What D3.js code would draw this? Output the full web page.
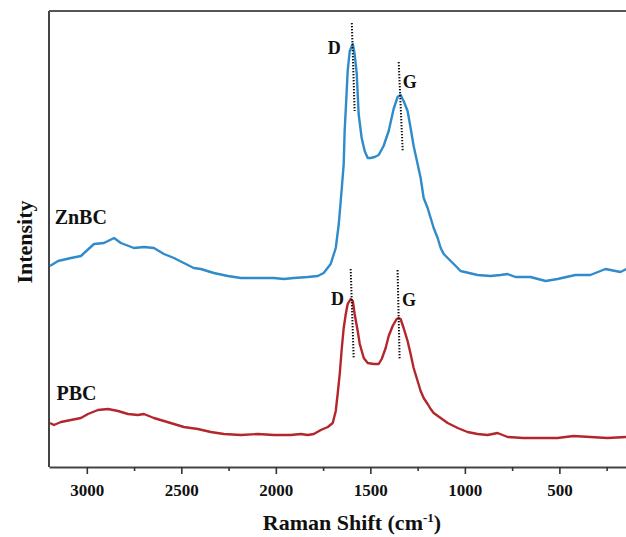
<!DOCTYPE html>
<html>
<head>
<meta charset="utf-8">
<script src="https://cdn.jsdelivr.net/npm/d3@7"></script>
<style>
  html, body { margin: 0; padding: 0; background: #fff; }
  svg { display: block; }
  text { font-family: "Liberation Serif", "Times New Roman", serif; font-weight: bold; fill: #111; }
</style>
</head>
<body>
<svg id="chart" width="626" height="537"></svg>
<script>
// ---- data (Raman shift in cm^-1, intensity in arbitrary units incl. vertical offset) ----
const znbcShift = [3195,3152,3084,3031,2962,2909,2856,2820,2751,2698,2645,2592,2539,2487,2434,2397,2328,2254,2185,2095,2011,1958,1905,1831,1778,1747,1710,1683,1667,1651,1641,1636,1627,1620,1609,1593,1583,1572,1562,1546,1530,1514,1498,1477,1456,1430,1403,1377,1356,1340,1324,1303,1287,1271,1250,1234,1218,1197,1181,1165,1144,1128,1112,1091,1075,1038,1023,933,864,811,774,732,653,573,510,415,336,256,177,145];
const znbcIntensity = [201,206,209,211,223,224,229,224,219,220,219,213,209,204,199,198,194,191,189,189,189,188,189,190,191,194,203,219,243,279,303,336,369,396,416,423,413,393,353,329,316,309,309,310,312,321,336,358,370,372,366,356,339,321,303,289,269,259,249,239,229,219,213,209,206,199,196,192,191,192,193,190,190,186,188,192,192,198,195,198];

const pbcShift = [3195,3174,3137,3084,3031,2994,2941,2888,2835,2782,2730,2698,2645,2592,2539,2487,2413,2344,2275,2185,2095,2011,1921,1868,1831,1799,1762,1725,1699,1683,1673,1662,1651,1641,1630,1620,1604,1593,1583,1567,1556,1535,1514,1482,1456,1440,1419,1403,1382,1361,1350,1340,1324,1303,1287,1271,1250,1234,1218,1197,1181,1165,1128,1091,1038,986,933,880,827,774,690,600,510,425,336,246,145];
const pbcIntensity = [44,42,45,47,49,53,57,58,56,53,52,53,49,46,43,40,38,35,33,32,33,32,32,33,32,33,37,40,44,56,73,93,119,139,153,163,168,166,153,136,123,109,104,103,103,108,119,131,141,148,149,148,139,126,113,99,86,76,69,63,58,54,49,44,39,35,33,32,34,30,29,29,29,31,30,29,30];

const xTicks = [3000, 2500, 2000, 1500, 1000, 500];
const xMinorTicks = [2750, 2250, 1750, 1250, 750, 250];
const seriesNames = ["ZnBC", "PBC"];
const seriesColors = ["#2f8bc9", "#b3262c"];
// sample label anchors: [shift, intensity]
const seriesLabelPos = [[3170, 243], [3160, 67]];
// dotted peak markers: [shiftTop, intensityTop, shiftBottom, intensityBottom]
const peakLines = [
  [1598, 444, 1583, 356], [1350, 405, 1329, 316],
  [1604, 198, 1588, 109], [1356, 197, 1345, 108]
];
// peak labels: [text, shift, intensity, anchor]
const peakLabels = [
  ["D", 1657, 413, "end"], ["G", 1328, 379, "start"],
  ["D", 1640, 162, "end"], ["G", 1333, 161, "start"]
];

(function draw() {
  const svg = d3.select("#chart");
  const mLeft = 49, mRight = 635, mTop = 11, mBottom = 467;

  const x = d3.scaleLinear().domain([3200, 100]).range([mLeft, mRight]);
  const y = d3.scaleLinear().domain([0, 456]).range([mBottom, mTop]);

  // frame lines (left, top)
  svg.append("line").attr("x1", mLeft).attr("x2", mLeft).attr("y1", mTop).attr("y2", mBottom)
    .attr("stroke", "#444").attr("stroke-width", 2);
  svg.append("line").attr("x1", mLeft).attr("x2", 626).attr("y1", mTop).attr("y2", mTop)
    .attr("stroke", "#555").attr("stroke-width", 2);

  // bottom axis
  const xAxis = d3.axisBottom(x).tickValues(xTicks).tickSize(7).tickSizeOuter(0).tickFormat(d3.format("d"));
  const gx = svg.append("g").attr("transform", `translate(0,${mBottom})`).call(xAxis);
  gx.select(".domain").attr("stroke", "#444").attr("stroke-width", 2);
  gx.selectAll(".tick line").attr("stroke", "#333").attr("stroke-width", 1.6);
  gx.selectAll(".tick text").attr("y", 29).attr("dy", 0)
    .style("font-family", "'Liberation Serif', serif").style("font-weight", "bold")
    .style("font-size", "17px").attr("fill", "#111");
  const gxm = svg.append("g").attr("transform", `translate(0,${mBottom})`)
    .call(d3.axisBottom(x).tickValues(xMinorTicks).tickSize(4).tickSizeOuter(0).tickFormat(""));
  gxm.select(".domain").remove();
  gxm.selectAll(".tick line").attr("stroke", "#333").attr("stroke-width", 1.6);

  // curves
  const line = d3.line().x(d => x(d[0])).y(d => y(d[1]));
  const seriesData = [
    d3.zip(znbcShift, znbcIntensity),
    d3.zip(pbcShift, pbcIntensity)
  ];
  svg.append("clipPath").attr("id", "clip").append("rect")
    .attr("x", mLeft).attr("y", mTop).attr("width", mRight - mLeft).attr("height", mBottom - mTop);
  seriesData.forEach((data, i) => {
    svg.append("path").datum(data)
      .attr("clip-path", "url(#clip)")
      .attr("fill", "none").attr("stroke", seriesColors[i])
      .attr("stroke-width", 2.4).attr("stroke-linejoin", "round")
      .attr("d", line);
  });

  // dotted peak markers
  peakLines.forEach(p => {
    svg.append("line")
      .attr("x1", x(p[0])).attr("y1", y(p[1])).attr("x2", x(p[2])).attr("y2", y(p[3]))
      .attr("stroke", "#111").attr("stroke-width", 2).attr("stroke-dasharray", "1.4,1.6");
  });

  // peak labels
  peakLabels.forEach(p => {
    svg.append("text").attr("x", x(p[1])).attr("y", y(p[2]))
      .attr("text-anchor", p[3]).style("font-size", "18px").text(p[0]);
  });

  // sample labels
  seriesNames.forEach((name, i) => {
    svg.append("text").attr("x", x(seriesLabelPos[i][0])).attr("y", y(seriesLabelPos[i][1]))
      .style("font-size", "20px").text(name);
  });

  // axis titles
  const xt = svg.append("text").attr("x", 352).attr("y", 530).attr("text-anchor", "middle")
    .style("font-size", "22px");
  xt.append("tspan").text("Raman Shift (cm");
  xt.append("tspan").attr("dy", -8).style("font-size", "13px").text("-1");
  xt.append("tspan").attr("dy", 8).text(")");

  svg.append("text").attr("transform", `translate(32,242) rotate(-90)`)
    .attr("text-anchor", "middle").style("font-size", "22px").text("Intensity");
})();
</script>
</body>
</html>
